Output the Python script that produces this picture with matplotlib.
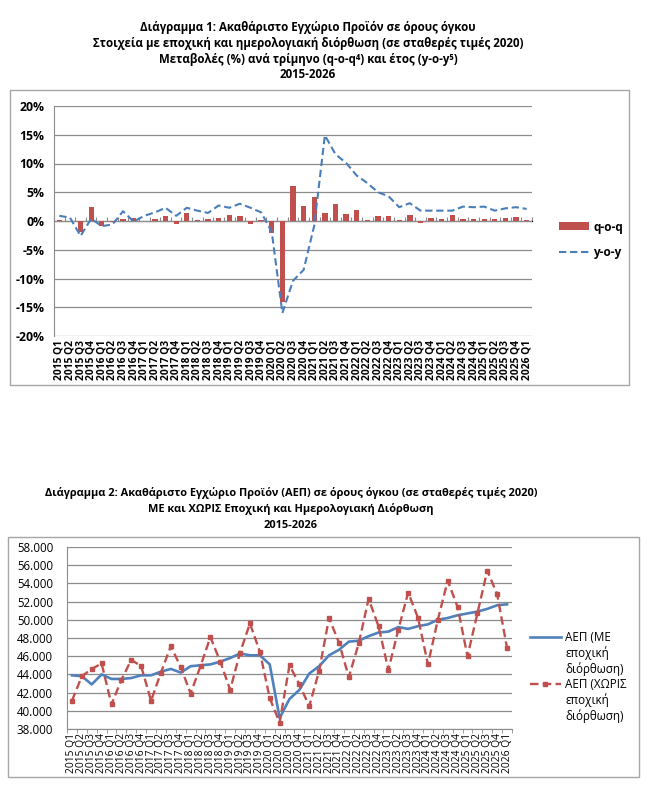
import matplotlib
matplotlib.use("Agg")
import matplotlib.pyplot as plt
from matplotlib.patches import Rectangle
from matplotlib.lines import Line2D
from matplotlib.ticker import FuncFormatter, MultipleLocator
import numpy as np

plt.rcParams['font.family'] = ['Open Sans', 'DejaVu Sans']

quarters = [f"{y} Q{q}" for y in range(2015, 2027) for q in range(1, 5)][:45]

qoq = [0.1, 0.0, -1.9, 2.5, -0.9, -0.1, 0.3, 0.6, 0.0, 0.4, 0.9, -0.6,
       1.4, 0.1, 0.3, 0.6, 1.1, 0.9, -0.5, 0.1, -2.0, -14.0, 6.1, 2.6,
       4.2, 1.4, 2.9, 1.3, 1.9, 0.1, 0.9, 0.9, 0.1, 1.1, -0.3, 0.6,
       0.3, 1.1, 0.3, 0.4, 0.4, 0.4, 0.6, 0.7, 0.2]
yoy = [0.9, 0.6, -2.6, 0.4, -0.9, -0.6, 1.7, -0.1, 0.9, 1.5, 2.3, 0.9,
       2.3, 1.8, 1.4, 2.7, 2.3, 3.0, 2.3, 1.5, -1.9, -16.0, -10.4, -8.5,
       -0.8, 14.9, 11.6, 10.1, 7.9, 6.6, 5.0, 4.3, 2.4, 3.1, 1.8, 1.8,
       1.8, 1.8, 2.5, 2.4, 2.5, 1.8, 2.2, 2.4, 2.1]

gdp_sa = [43.9, 43.8, 42.9, 44.0, 43.5, 43.5, 43.6, 43.9, 43.9, 44.3, 44.6, 44.2,
          44.9, 45.0, 45.1, 45.4, 45.8, 46.3, 46.1, 46.1, 45.1, 39.2, 41.3, 42.3,
          44.1, 44.9, 46.1, 46.7, 47.6, 47.7, 48.2, 48.6, 48.7, 49.2, 49.0, 49.3,
          49.5, 50.0, 50.2, 50.5, 50.7, 50.9, 51.2, 51.6, 51.7]
gdp_nsa = [41.1, 43.8, 44.6, 45.2, 40.7, 43.4, 45.6, 44.9, 41.1, 44.2, 47.1, 44.8,
           41.9, 44.9, 48.1, 45.4, 42.3, 46.4, 49.6, 46.5, 41.4, 38.7, 45.0, 42.9,
           40.5, 44.4, 50.2, 47.5, 43.7, 47.4, 52.3, 49.3, 44.5, 48.9, 53.0, 50.2,
           45.1, 50.0, 54.3, 51.4, 46.0, 50.7, 55.4, 52.8, 46.9]

title1 = ["Διάγραμμα 1: Ακαθάριστο Εγχώριο Προϊόν σε όρους όγκου",
          "Στοιχεία με εποχική και ημερολογιακή διόρθωση (σε σταθερές τιμές 2020)",
          "Μεταβολές (%) ανά τρίμηνο (q-o-q⁴) και έτος (y-o-y⁵)",
          "2015-2026"]
title2 = ["Διάγραμμα 2: Ακαθάριστο Εγχώριο Προϊόν (ΑΕΠ) σε όρους όγκου (σε σταθερές τιμές 2020)",
          "ΜΕ και ΧΩΡΙΣ Εποχική και Ημερολογιακή Διόρθωση",
          "2015-2026"]
legend1 = ["q-o-q", "y-o-y"]
legend2_sa = ["ΑΕΠ (ΜΕ", "εποχική", "διόρθωση)"]
legend2_nsa = ["ΑΕΠ (ΧΩΡΙΣ", "εποχική", "διόρθωση)"]

RED = "#C0504D"
BLUE = "#4F81BD"
GRID = "#8c8c8c"
BOX = "#a6a6a6"

W, H = 648, 785
fig = plt.figure(figsize=(W / 100, H / 100), dpi=100)


def fx(px):
    return px / W


def fy(py):
    return 1 - py / H


# Titles
for i, t in enumerate(title1):
    fig.text(fx(308), fy(27 + 16 * i), t, ha="center", va="center",
             fontsize=8.3, fontweight="bold")
for i, t in enumerate(title2):
    fig.text(fx(291), fy(493 + 16 * i), t, ha="center", va="center",
             fontsize=7.9, fontweight="bold")

# Chart boxes
fig.add_artist(Rectangle((fx(10), fy(385)), fx(619), 295 / H, transform=fig.transFigure,
                         fill=False, edgecolor=BOX, lw=1.0))
fig.add_artist(Rectangle((fx(8), fy(777)), fx(631), 240 / H, transform=fig.transFigure,
                         fill=False, edgecolor=BOX, lw=1.0))

x = np.arange(len(quarters))

# ---------------- Chart 1 ----------------
ax1 = fig.add_axes([fx(54), fy(336), fx(478), 230 / H])
ax1.set_ylim(-20, 20)
ax1.set_xlim(-0.5, len(quarters) - 0.5)
ax1.yaxis.set_major_locator(MultipleLocator(5))
ax1.grid(axis="y", color=GRID, lw=0.9)
ax1.set_axisbelow(True)
bars = ax1.bar(x, qoq, width=0.5, color=RED, zorder=2)
line_yoy, = ax1.plot(x, yoy, color="#4a7ebb", lw=1.5, ls=(0, (3.5, 1.8)), zorder=3)
ax1.yaxis.set_major_formatter(FuncFormatter(lambda v, p: f"{v:.0f}%"))
for s in ["top", "right", "bottom"]:
    ax1.spines[s].set_visible(False)
ax1.spines["left"].set_color(GRID)
ax1.tick_params(axis="y", length=0, labelsize=8.8, pad=7)
for lab in ax1.get_yticklabels():
    lab.set_fontweight("bold")
ax1.set_xticks(x)
ax1.set_xticklabels(quarters, rotation=90, fontsize=7.4, fontweight="bold")
ax1.tick_params(axis="x", length=0, pad=3)
sec1 = ax1.secondary_xaxis(0.5)
sec1.set_xticks(np.arange(-0.5, len(quarters), 1.0))
sec1.set_xticklabels([])
sec1.tick_params(axis="x", direction="out", length=3, color=GRID)
sec1.spines["bottom"].set_color(GRID)
ax1.legend([bars, line_yoy], legend1, loc="center left",
           bbox_to_anchor=(fx(548), fy(240)), bbox_transform=fig.transFigure,
           frameon=False, prop={"size": 8.5, "weight": "bold"}, handlelength=2.6,
           handleheight=0.65, labelspacing=1.1, handletextpad=0.35)

# ---------------- Chart 2 ----------------
ax2 = fig.add_axes([fx(67), fy(729), fx(445), 182 / H])
ax2.set_ylim(38, 58)
ax2.set_xlim(-0.5, len(quarters) - 0.5)
ax2.yaxis.set_major_locator(MultipleLocator(2))
ax2.grid(axis="y", color=GRID, lw=0.9)
ax2.set_axisbelow(True)
line_sa, = ax2.plot(x, gdp_sa, color=BLUE, lw=1.9, zorder=3)
line_nsa, = ax2.plot(x, gdp_nsa, color=RED, lw=1.7, ls=(0, (3.6, 1.8)), marker="s",
                     markersize=2.8, zorder=4)
ax2.yaxis.set_major_formatter(FuncFormatter(lambda v, p: f"{v:.3f}"))
for s in ["top", "right"]:
    ax2.spines[s].set_visible(False)
ax2.spines["left"].set_color(GRID)
ax2.spines["bottom"].set_color(GRID)
ax2.tick_params(axis="y", length=0, labelsize=8.3, pad=10)
ax2.set_xticks(x)
ax2.set_xticklabels(quarters, rotation=90, fontsize=7.4)
ax2.set_xticks(np.arange(-0.5, len(quarters), 1.0), minor=True)
ax2.tick_params(axis="x", which="major", length=0, pad=3)
ax2.tick_params(axis="x", which="minor", length=3, color=GRID)
blank = Line2D([], [], alpha=0)
handles2 = [line_sa, blank, blank, line_nsa, blank, blank]
labels2 = legend2_sa + legend2_nsa
ax2.legend(handles2, labels2, loc="center left",
           bbox_to_anchor=(fx(519), fy(677)), bbox_transform=fig.transFigure,
           frameon=False, prop={"size": 8.4}, handlelength=2.7, labelspacing=0.18,
           handletextpad=0.35)

fig.savefig("out.png", dpi=100)
